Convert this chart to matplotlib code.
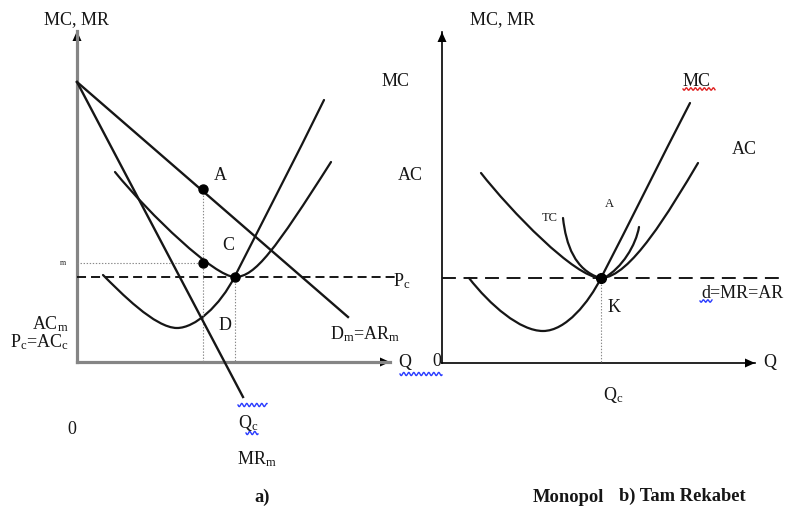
import numpy as np
import matplotlib
matplotlib.use("Agg")
import matplotlib.pyplot as plt
from matplotlib.path import Path
from matplotlib.patches import PathPatch, Polygon

plt.rcParams["font.family"] = ["Liberation Serif", "DejaVu Serif"]
plt.rcParams["mathtext.fontset"] = "custom"
plt.rcParams["mathtext.rm"] = "Liberation Serif"
plt.rcParams["mathtext.it"] = "Liberation Serif:italic"
plt.rcParams["lines.scale_dashes"] = False

# ---- page coordinates (pixels, y grows downward) ----
# a) monopoly panel
left_origin = (77, 362)
left_y_tip = (77, 31)
left_x_tip = (390, 362)
demand_m = [(77, 82), (348, 317)]
mr_m = [(77, 82), (243, 397)]
ac_m = [(115, 172), (150, 215), (215, 277), (235, 277),
        (255, 277), (275, 250), (331, 162)]
mc_m = [(103, 275), (120, 292), (155, 328), (177, 328),
        (195, 328), (220, 306), (235, 276),
        (265, 217), (295, 159), (324, 100)]
price_c_left = 277
dots_m = [(203, 189), (203, 263), (235, 277)]

# b) perfect competition panel
right_origin = (442, 363)
right_y_tip = (442, 32)
right_x_tip = (755, 363)
ac_c = [(481, 173), (510, 210), (575, 278), (601, 278),
        (630, 278), (670, 210), (698, 163)]
mc_c = [(469, 278), (490, 305), (520, 331), (543, 331),
        (566, 331), (589, 302), (601, 278),
        (631, 220), (660, 161), (690, 103)]
tc_c = [(563, 218), (566, 245), (575, 270), (600, 278)]
a_c = [(639, 227), (636, 245), (622, 268), (604, 278)]
price_c_right = 278
dot_k = (601, 278)

INK = "#161616"
AXIS_GRAY = "#858585"
DOT_GRAY = "#8a8a8a"

fig = plt.figure(figsize=(7.87, 5.14), dpi=100)
ax = fig.add_axes([0, 0, 1, 1])
ax.set_xlim(0, 787)
ax.set_ylim(514, 0)
ax.axis("off")


def bezier(points, lw=1.6, color=INK):
    """Draw a chain of cubic Bezier segments (1 + 3n points)."""
    codes = [Path.MOVETO] + [Path.CURVE4] * (len(points) - 1)
    ax.add_patch(PathPatch(Path(points, codes), fill=False, lw=lw,
                           edgecolor=color, capstyle="round"))


def segment(p, q, **kw):
    ax.plot([p[0], q[0]], [p[1], q[1]], **kw)


def arrow_head(tip, direction, length=10, half=4.5):
    dx, dy = direction
    tx, ty = tip
    bx, by = tx - dx * length, ty - dy * length
    px, py = -dy * half, dx * half
    ax.add_patch(Polygon([(tx, ty), (bx + px, by + py), (bx - px, by - py)],
                         closed=True, color="black", lw=0))


def squiggle(x0, x1, y, color, amp=1.6, period=5.0):
    xs = np.linspace(x0, x1, 200)
    ax.plot(xs, y + amp * np.sin(2 * np.pi * (xs - x0) / period),
            color=color, lw=1.0)


# ---------------- panel a) ----------------
segment(left_origin, left_y_tip, color=AXIS_GRAY, lw=2.3)
segment(left_origin, left_x_tip, color=AXIS_GRAY, lw=2.3)
arrow_head(left_y_tip, (0, -1))
arrow_head(left_x_tip, (1, 0))

# guide lines
segment((dots_m[0][0], dots_m[0][1]), (dots_m[0][0], left_origin[1]),
        color=DOT_GRAY, lw=0.8, ls=(0, (1, 1.2)))
segment((left_origin[0], dots_m[1][1]), dots_m[1],
        color=DOT_GRAY, lw=0.8, ls=(0, (1, 1.2)))
segment(dots_m[2], (dots_m[2][0], left_origin[1]),
        color=DOT_GRAY, lw=0.8, ls=(0, (1, 1.2)))
segment((left_origin[0], price_c_left), (395, price_c_left),
        color=INK, lw=1.4, ls=(0, (6.5, 3.6)))

segment(*demand_m, color=INK, lw=1.7)
segment(*mr_m, color=INK, lw=1.7)
bezier(ac_m)
bezier(mc_m)
for x, y in dots_m:
    ax.plot(x, y, "o", ms=6.5, color="black")

# ---------------- panel b) ----------------
segment(right_origin, right_y_tip, color="black", lw=1.2)
segment(right_origin, right_x_tip, color="black", lw=1.2)
arrow_head(right_y_tip, (0, -1))
arrow_head(right_x_tip, (1, 0))

segment(dot_k, (dot_k[0], right_origin[1]),
        color=DOT_GRAY, lw=0.8, ls=(0, (1, 1.2)))
segment((right_origin[0], price_c_right), (780, price_c_right),
        color=INK, lw=1.4, ls=(0, (10, 5.5)))
bezier(ac_c)
bezier(mc_c)
bezier(tc_c)
bezier(a_c)
ax.plot(*dot_k, "o", ms=7, color="black")

# ---------------- labels ----------------
T = dict(color=INK, fontsize=13)
S = dict(color=INK, fontsize=9)
B = dict(color=INK, fontsize=13.3, fontweight="bold")

ax.text(76, 20, "MC, MR", ha="center", va="center", **T)
ax.text(396, 82, "MC", ha="center", va="center", **T)
ax.text(410, 176, "AC", ha="center", va="center", **T)
ax.text(220, 176, "A", ha="center", va="center", **T)
ax.text(228, 246, "C", ha="center", va="center", **T)
ax.text(225, 326, "D", ha="center", va="center", **T)
ax.text(63, 263, "m", ha="center", va="center", color=INK, fontsize=5.5)
ax.text(393, 281, r"P$_{\rm c}$", ha="left", va="center", **T)
ax.text(69, 324, r"AC$_{\rm m}$", ha="right", va="center", **T)
ax.text(69, 342, r"P$_{\rm c}$=AC$_{\rm c}$", ha="right", va="center", **T)
ax.text(330, 334, r"D$_{\rm m}$=AR$_{\rm m}$", ha="left", va="center", **T)
ax.text(405, 362, "Q", ha="center", va="center", **T)
ax.text(437, 362, "0", ha="center", va="center", **T)
squiggle(400, 442, 374, "#2a3cff")
squiggle(238, 267, 405, "#2a3cff")
ax.text(238, 423, r"Q$_{\rm c}$", ha="left", va="center", **T)
squiggle(246, 258, 433, "#2a3cff")
ax.text(72, 430, "0", ha="center", va="center", **T)
ax.text(237, 459, r"MR$_{\rm m}$", ha="left", va="center", **T)
ax.text(262, 497, "a)", ha="center", va="center", **B)

ax.text(503, 20, "MC, MR", ha="center", va="center", **T)
ax.text(697, 82, "MC", ha="center", va="center", **T)
squiggle(683, 715, 89, "#e02020", amp=1.2, period=4.5)
ax.text(744, 150, "AC", ha="center", va="center", **T)
ax.text(550, 218, "TC", ha="center", va="center", **S)
ax.text(609, 204, "A", ha="center", va="center", **S)
ax.text(614, 307, "K", ha="center", va="center", **T)
ax.text(701, 293, "d=MR=AR", ha="left", va="center", **T)
squiggle(700, 712, 301, "#2a3cff", amp=1.2, period=4.5)
ax.text(770, 362, "Q", ha="center", va="center", **T)
ax.text(613, 395, r"Q$_{\rm c}$", ha="center", va="center", **T)
ax.text(568, 497, "Monopol", ha="center", va="center", **B)
ax.text(682, 496, "b) Tam Rekabet", ha="center", va="center", **B)

fig.savefig("out.png", dpi=100)
